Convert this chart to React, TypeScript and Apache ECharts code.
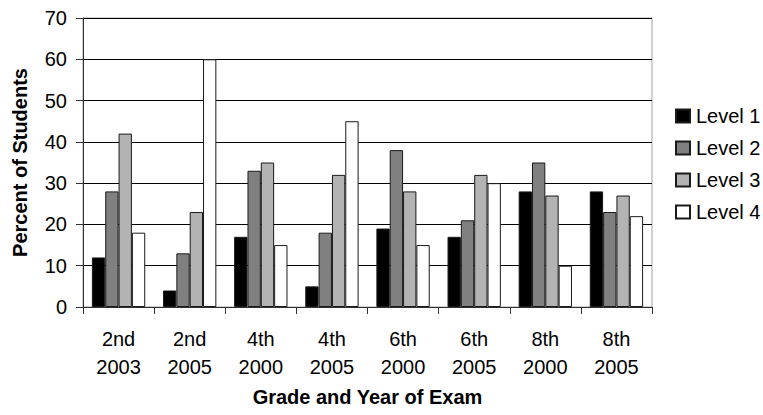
import React, { useEffect, useRef } from "react";
import * as echarts from "echarts";

const categories = ["2nd\n2003", "2nd\n2005", "4th\n2000", "4th\n2005", "6th\n2000", "6th\n2005", "8th\n2000", "8th\n2005"];
const seriesNames = ["Level 1", "Level 2", "Level 3", "Level 4"];
const level1 = [12, 4, 17, 5, 19, 17, 28, 28];
const level2 = [28, 13, 33, 18, 38, 21, 35, 23];
const level3 = [42, 23, 35, 32, 28, 32, 27, 27];
const level4 = [18, 60, 15, 45, 15, 30, 10, 22];
const colors = ["#000000", "#808080", "#b3b3b3", "#ffffff"];

const FONT = "'Liberation Sans', Arial, Helvetica, sans-serif";

export default function App() {
  const ref = useRef<HTMLDivElement>(null);
  useEffect(() => {
    if (!ref.current) return;
    const chart = echarts.init(ref.current, null, { renderer: "svg", width: 763, height: 415 });
    const data = [level1, level2, level3, level4];
    chart.setOption({
      animation: false,
      backgroundColor: "#ffffff",
      textStyle: { fontFamily: FONT },
      grid: {
        left: 83,
        top: 18,
        width: 569,
        height: 289,
        show: true,
        borderColor: "#a0a0a0",
        borderWidth: 1,
        backgroundColor: "transparent",
      },
      legend: {
        orient: "vertical",
        left: 675,
        top: 106,
        padding: 0,
        itemWidth: 14,
        itemHeight: 13,
        itemGap: 12,
        icon: "rect",
        data: seriesNames,
        textStyle: { fontFamily: FONT, fontSize: 20, color: "#000", padding: [0, 0, 0, 1] },
      },
      xAxis: {
        type: "category",
        data: categories,
        name: "Grade and Year of Exam",
        nameLocation: "middle",
        nameGap: 80,
        nameTextStyle: { fontFamily: FONT, fontSize: 20, fontWeight: "bold", color: "#000" },
        axisLine: { show: true, lineStyle: { color: "#303030", width: 1 } },
        axisTick: { show: true, alignWithLabel: false, length: 7, lineStyle: { color: "#303030" } },
        axisLabel: { fontFamily: FONT, fontSize: 20, color: "#000", lineHeight: 28, margin: 18, interval: 0 },
        splitLine: { show: false },
      },
      yAxis: {
        type: "value",
        min: 0,
        max: 70,
        interval: 10,
        name: "Percent of Students",
        nameLocation: "middle",
        nameGap: 53,
        nameTextStyle: { fontFamily: FONT, fontSize: 20, fontWeight: "bold", color: "#000" },
        axisLine: { show: true, lineStyle: { color: "#303030", width: 1 } },
        axisTick: { show: true, length: 7, lineStyle: { color: "#303030" } },
        axisLabel: { fontFamily: FONT, fontSize: 20, color: "#000", margin: 16 },
        splitLine: { show: true, lineStyle: { color: "#000", width: 1 } },
      },
      series: seriesNames.map((name, i) => ({
        name,
        type: "bar",
        data: data[i],
        barGap: "0%",
        barCategoryGap: "25%",
        itemStyle: { color: colors[i], borderColor: "#1a1a1a", borderWidth: 1 },
      })),
    });
    return () => chart.dispose();
  }, []);
  return (
    <div
      ref={ref}
      style={{ position: "fixed", left: 0, top: 0, width: 763, height: 415, overflow: "visible" }}
    />
  );
}
